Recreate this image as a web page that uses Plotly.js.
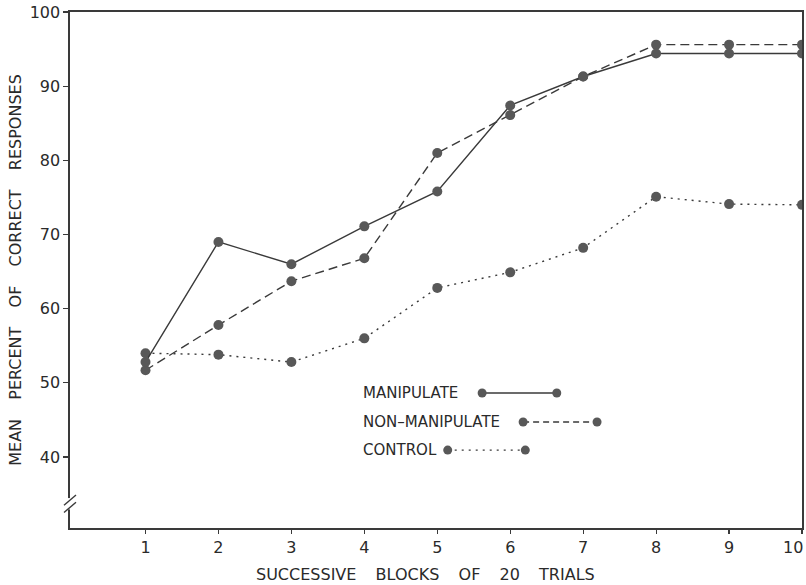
<!DOCTYPE html>
<html>
<head>
<meta charset="utf-8">
<script src="https://cdn.plot.ly/plotly-3.0.1.min.js"></script>
<style>html,body{margin:0;padding:0;background:#fff;}</style>
</head>
<body>
<div id="chart" style="width:806px;height:585px;"></div>
<script>
var blocks = [1, 2, 3, 4, 5, 6, 7, 8, 9, 10];
var manipulate = [52.8, 69.0, 66.0, 71.1, 75.8, 87.4, 91.3, 94.4, 94.4, 94.4];
var nonManipulate = [51.7, 57.8, 63.7, 66.8, 81.0, 86.1, 91.3, 95.6, 95.6, 95.6];
var control = [54.0, 53.8, 52.8, 56.0, 62.8, 64.9, 68.2, 75.1, 74.1, 74.0];
var yTicks = [40, 50, 60, 70, 80, 90, 100];
var xTicks = [1, 2, 3, 4, 5, 6, 7, 8, 9, 10];
var xTickText = ['1', '2', '3', '4', '5', '6', '7', '8', '9', ''];
var lastTickLabel = '10';
var legendNames = ['MANIPULATE', 'NON\u2013MANIPULATE', 'CONTROL'];

var ink = '#3a3a3a';
var dotInk = '#585858';
var font = 'DejaVu Sans, Liberation Sans, sans-serif';
var gap = '\u2003\u2009';

function tr(y, dash, name) {
  return {
    x: blocks, y: y, type: 'scatter', mode: 'lines+markers', name: name,
    line: {color: ink, width: 1.4, dash: dash},
    marker: {color: dotInk, size: 10, line: {width: 0}},
    showlegend: false
  };
}

var data = [
  tr(control, '2px,5px', 'CONTROL'),
  tr(nonManipulate, '9px,5px', 'NON-MANIPULATE'),
  tr(manipulate, 'solid', 'MANIPULATE')
];

// legend built from shapes/annotations (paper coords)
var legRows = [
  {y: 0.2616, x0: 0.563, x1: 0.665, dash: 'solid'},
  {y: 0.2054, x0: 0.619, x1: 0.720, dash: '6px,4px'},
  {y: 0.151, x0: 0.516, x1: 0.622, dash: '2px,5px'}
];
var shapes = [];
var annotations = [];
legRows.forEach(function (r, i) {
  shapes.push({type: 'line', xref: 'paper', yref: 'paper', x0: r.x0, x1: r.x1, y0: r.y, y1: r.y,
    line: {color: ink, width: 1.4, dash: r.dash}});
  [r.x0, r.x1].forEach(function (xc) {
    shapes.push({type: 'circle', xref: 'paper', yref: 'paper', xsizemode: 'pixel', ysizemode: 'pixel',
      xanchor: xc, yanchor: r.y, x0: -4.5, x1: 4.5, y0: -4.5, y1: 4.5,
      fillcolor: dotInk, line: {width: 0}});
  });
  annotations.push({xref: 'paper', yref: 'paper', x: 0.397, y: r.y, xanchor: 'left', yanchor: 'middle',
    text: legendNames[i], showarrow: false, font: {family: font, size: 15, color: '#2a2a2a'}});
});
// last x tick label, nudged left so it stays on the page
annotations.push({xref: 'x', yref: 'paper', x: xTicks[xTicks.length - 1], y: 0, xanchor: 'right', yanchor: 'top',
  xshift: 3, yshift: -8, text: lastTickLabel, showarrow: false, font: {family: font, size: 16, color: '#2a2a2a'}});
// x axis title (placed as in the original, slightly left of centre)
annotations.push({xref: 'paper', yref: 'paper', x: 0.486, y: -0.09, xanchor: 'center', yanchor: 'middle',
  text: 'SUCCESSIVE' + gap + 'BLOCKS' + gap + 'OF' + gap + '20' + gap + 'TRIALS',
  showarrow: false, font: {family: font, size: 16, color: '#2a2a2a'}});
// axis break marks on the y axis
shapes.push({type: 'rect', xref: 'paper', yref: 'paper', xsizemode: 'pixel', xanchor: 0, x0: -3, x1: 3,
  y0: 0.036, y1: 0.058, fillcolor: '#fff', line: {width: 0}, layer: 'above'});
shapes.push({type: 'line', xref: 'paper', yref: 'paper', xsizemode: 'pixel', xanchor: 0, x0: -6, x1: 6,
  y0: 0.030, y1: 0.050, line: {color: ink, width: 1.4}});
shapes.push({type: 'line', xref: 'paper', yref: 'paper', xsizemode: 'pixel', xanchor: 0, x0: -6, x1: 6,
  y0: 0.044, y1: 0.064, line: {color: ink, width: 1.4}});

var layout = {
  width: 806, height: 585,
  margin: {l: 70, r: 4, t: 12, b: 57},
  paper_bgcolor: '#fff', plot_bgcolor: '#fff',
  font: {family: font, color: '#2a2a2a'},
  xaxis: {
    range: [-0.035, 10], tickvals: xTicks, ticktext: xTickText,
    showgrid: false, zeroline: false, showline: true, linecolor: ink, linewidth: 1.6, mirror: true,
    ticks: 'outside', ticklen: 4, tickcolor: ink, tickwidth: 1.2,
    tickfont: {family: font, size: 16, color: '#2a2a2a'}
  },
  yaxis: {
    range: [30.43, 100], tickvals: yTicks, ticktext: yTicks.map(String),
    showgrid: false, zeroline: false, showline: true, linecolor: ink, linewidth: 1.6, mirror: true,
    ticks: 'outside', ticklen: 5, tickcolor: ink, tickwidth: 1.2,
    tickfont: {family: font, size: 16, color: '#2a2a2a'},
    title: {text: 'MEAN' + gap + 'PERCENT' + gap + 'OF' + gap + 'CORRECT' + gap + 'RESPONSES',
      font: {family: font, size: 16, color: '#2a2a2a'}, standoff: 4}
  },
  shapes: shapes,
  annotations: annotations
};

Plotly.newPlot('chart', data, layout, {displayModeBar: false, staticPlot: true});
</script>
</body>
</html>
